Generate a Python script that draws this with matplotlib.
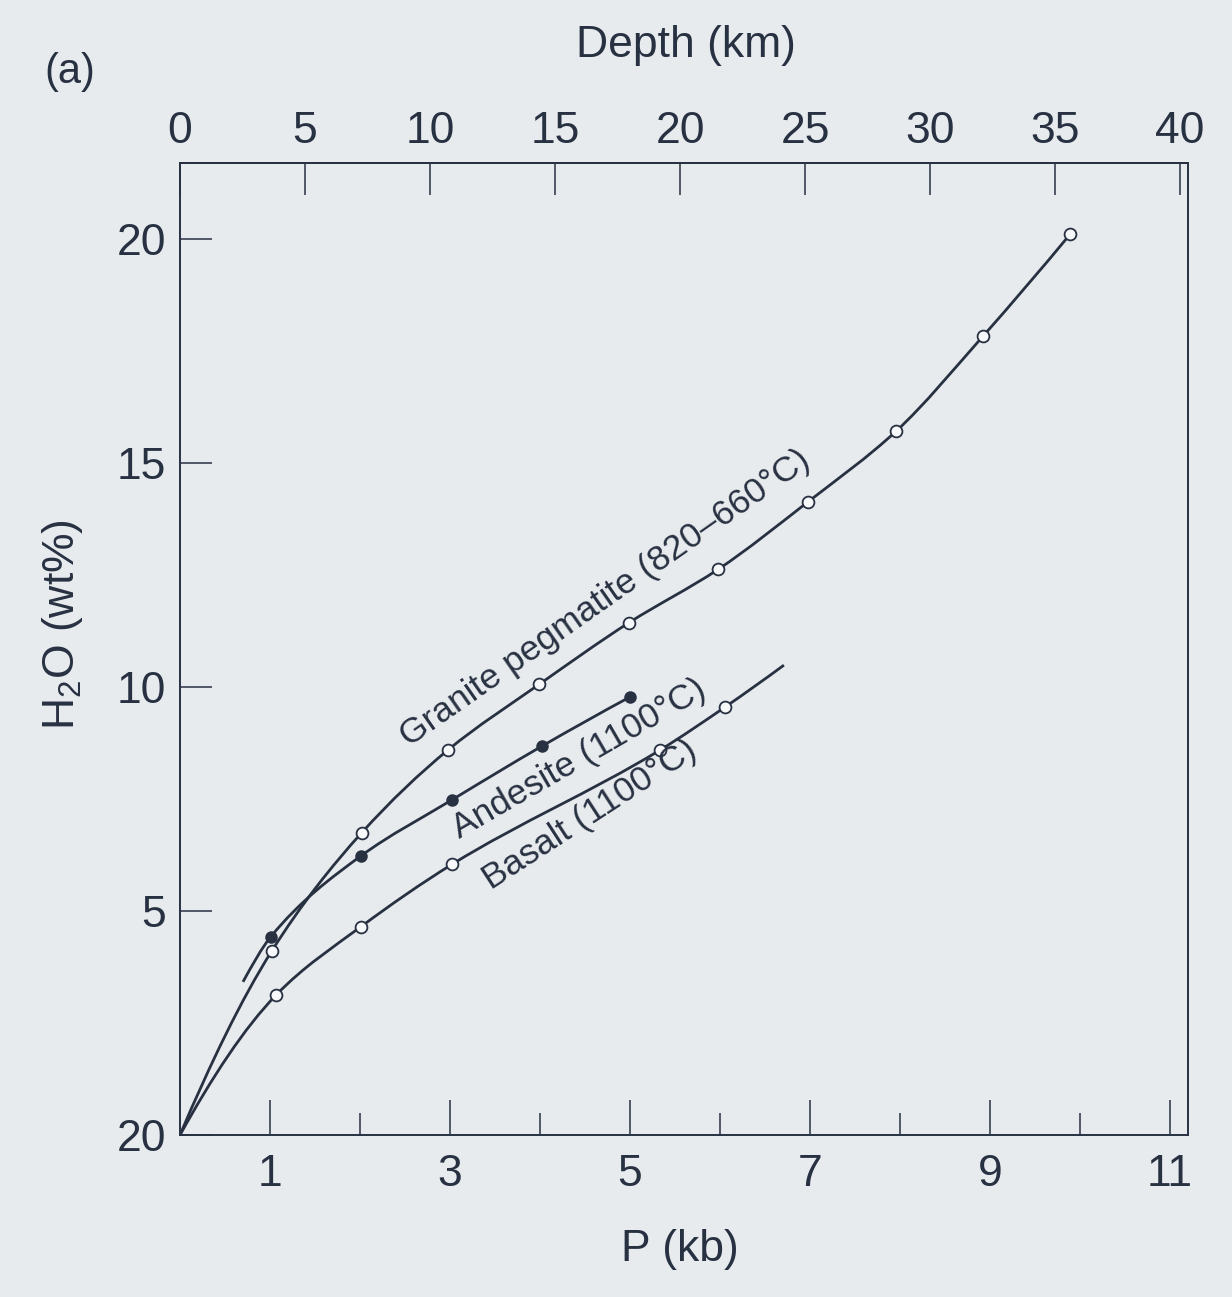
import matplotlib
matplotlib.use("Agg")
import numpy as np
import matplotlib.pyplot as plt
from matplotlib.path import Path
from matplotlib.patches import PathPatch

plt.rcParams['font.family'] = ['Liberation Sans', 'DejaVu Sans']
plt.rcParams['mathtext.default'] = 'regular'

# --- measured H2O solubility (wt%) versus pressure (kb) ---
granite_p = [1.02, 2.02, 2.98, 3.99, 4.99, 5.98, 6.98, 7.96, 8.92, 9.89]
granite_w = [4.11, 6.75, 8.60, 10.06, 11.44, 12.63, 14.14, 15.72, 17.83, 20.11]
granite_start = (0.0, 0.0)

andesite_p = [1.01, 2.01, 3.02, 4.02, 5.00]
andesite_w = [4.43, 6.23, 7.48, 8.68, 9.78]
andesite_start = (0.70, 3.42)

basalt_p = [1.07, 2.01, 3.02, 5.33, 6.06]
basalt_w = [3.13, 4.65, 6.04, 8.59, 9.56]
basalt_start = (0.0, 0.0)
basalt_end = (6.71, 10.49)

bottom_major = [1, 3, 5, 7, 9, 11]
bottom_minor = [2, 4, 6, 8, 10]
y_ticks = [0, 5, 10, 15, 20]
y_ticklabels = ['20', '5', '10', '15', '20']
depth_ticks = [0, 5, 10, 15, 20, 25, 30, 35, 40]
KM_PER_KB = 3.6

paper = '#e8ebee'
ink = '#283142'


def pchip_slopes(x, y):
    """Shape-preserving (Fritsch-Carlson) tangents at each knot."""
    h = np.diff(x)
    delta = np.diff(y) / h
    n = len(x)
    d = np.zeros(n)
    for k in range(1, n - 1):
        if delta[k - 1] * delta[k] > 0:
            w1 = 2 * h[k] + h[k - 1]
            w2 = h[k] + 2 * h[k - 1]
            d[k] = (w1 + w2) / (w1 / delta[k - 1] + w2 / delta[k])

    def edge(h0, h1, m0, m1):
        e = ((2 * h0 + h1) * m0 - h0 * m1) / (h0 + h1)
        if np.sign(e) != np.sign(m0):
            e = 0.0
        elif np.sign(m0) != np.sign(m1) and abs(e) > abs(3 * m0):
            e = 3 * m0
        return e

    d[0] = edge(h[0], h[1], delta[0], delta[1])
    d[-1] = edge(h[-1], h[-2], delta[-1], delta[-2])
    return d


def smooth_path(xs, ys):
    """Smooth curve through the points, expressed as cubic Bezier segments."""
    x = np.asarray(xs, float)
    y = np.asarray(ys, float)
    d = pchip_slopes(x, y)
    h = np.diff(x)
    verts = [(x[0], y[0])]
    codes = [Path.MOVETO]
    for i in range(len(x) - 1):
        verts += [(x[i] + h[i] / 3, y[i] + d[i] * h[i] / 3),
                  (x[i + 1] - h[i] / 3, y[i + 1] - d[i + 1] * h[i] / 3),
                  (x[i + 1], y[i + 1])]
        codes += [Path.CURVE4] * 3
    return Path(verts, codes)


fig = plt.figure(figsize=(12.32, 12.97), dpi=100)
fig.patch.set_facecolor(paper)
ax = fig.add_axes([0.1461, 0.1249, 0.8182, 0.7494])
ax.set_facecolor(paper)
ax.set_xlim(0, 11.2)
ax.set_ylim(0, 21.7)

for s in ax.spines.values():
    s.set_color(ink)
    s.set_linewidth(1.4)

lw = 2.0
curves = [
    ([granite_start[0]] + granite_p, [granite_start[1]] + granite_w),
    ([andesite_start[0]] + andesite_p, [andesite_start[1]] + andesite_w),
    ([basalt_start[0]] + basalt_p + [basalt_end[0]],
     [basalt_start[1]] + basalt_w + [basalt_end[1]]),
]
for xs, ys in curves:
    ax.add_patch(PathPatch(smooth_path(xs, ys), fill=False, edgecolor=ink,
                           linewidth=lw, capstyle='butt', zorder=2))

ax.plot(granite_p, granite_w, linestyle='none', marker='o', markersize=8.5,
        markerfacecolor='#f7f8f9', markeredgecolor=ink, markeredgewidth=1.3, zorder=3)
ax.plot(basalt_p, basalt_w, linestyle='none', marker='o', markersize=8.5,
        markerfacecolor='#f7f8f9', markeredgecolor=ink, markeredgewidth=1.3, zorder=3)
ax.plot(andesite_p, andesite_w, linestyle='none', marker='o', markersize=8,
        markerfacecolor=ink, markeredgecolor=ink, markeredgewidth=1.0, zorder=3)

# curve labels
ax.text(4.72, 11.98, 'Granite pegmatite (820\u2013660\u00b0C)', rotation=35,
        rotation_mode='anchor', ha='center', va='center', fontsize=25.5, color=ink)
ax.text(4.44, 8.39, 'Andesite (1100\u00b0C)', rotation=30,
        rotation_mode='anchor', ha='center', va='center', fontsize=25.5, color=ink)
ax.text(4.55, 7.15, 'Basalt (1100\u00b0C)', rotation=33,
        rotation_mode='anchor', ha='center', va='center', fontsize=25.5, color=ink)

# bottom pressure axis
ax.set_xticks(bottom_major)
ax.set_xticklabels([str(v) for v in bottom_major])
ax.set_xticks(bottom_minor, minor=True)
ax.tick_params(axis='x', which='major', direction='in', length=25, width=1.1,
               pad=14, labelsize=32, color=ink, labelcolor=ink, top=False)
ax.tick_params(axis='x', which='minor', direction='in', length=16, width=1.1,
               color=ink, top=False)

# left water axis
ax.set_yticks(y_ticks)
ax.set_yticklabels(y_ticklabels)
ax.tick_params(axis='y', direction='in', length=23, width=1.1, pad=10,
               labelsize=32, color=ink, labelcolor=ink, right=False)

# top depth axis
secax = ax.secondary_xaxis('top', functions=(lambda p: p * KM_PER_KB,
                                             lambda d: d / KM_PER_KB))
secax.set_xticks(depth_ticks)
secax.set_xticklabels([str(v) for v in depth_ticks])
secax.tick_params(direction='in', length=23, width=1.1, pad=8, labelsize=32,
                  color=ink, labelcolor=ink)
secax.spines['top'].set_color(ink)
secax.spines['top'].set_linewidth(1.4)

# axis titles
ax.set_xlabel('P (kb)', fontsize=32, color=ink)
ax.xaxis.label.set_va('center')
ax.xaxis.set_label_coords(0.496, -0.118)
ax.set_ylabel('H$_2$O (wt%)', fontsize=32, color=ink)
ax.yaxis.label.set_va('center')
ax.yaxis.set_label_coords(-0.117, 0.525)
fig.text(686 / 1232, 1 - 45 / 1297, 'Depth (km)', fontsize=32, color=ink,
         ha='center', va='center')
fig.text(70 / 1232, 1 - 72 / 1297, '(a)', fontsize=30, color=ink,
         ha='center', va='center')

fig.savefig('out.png', dpi=100, facecolor=paper)
